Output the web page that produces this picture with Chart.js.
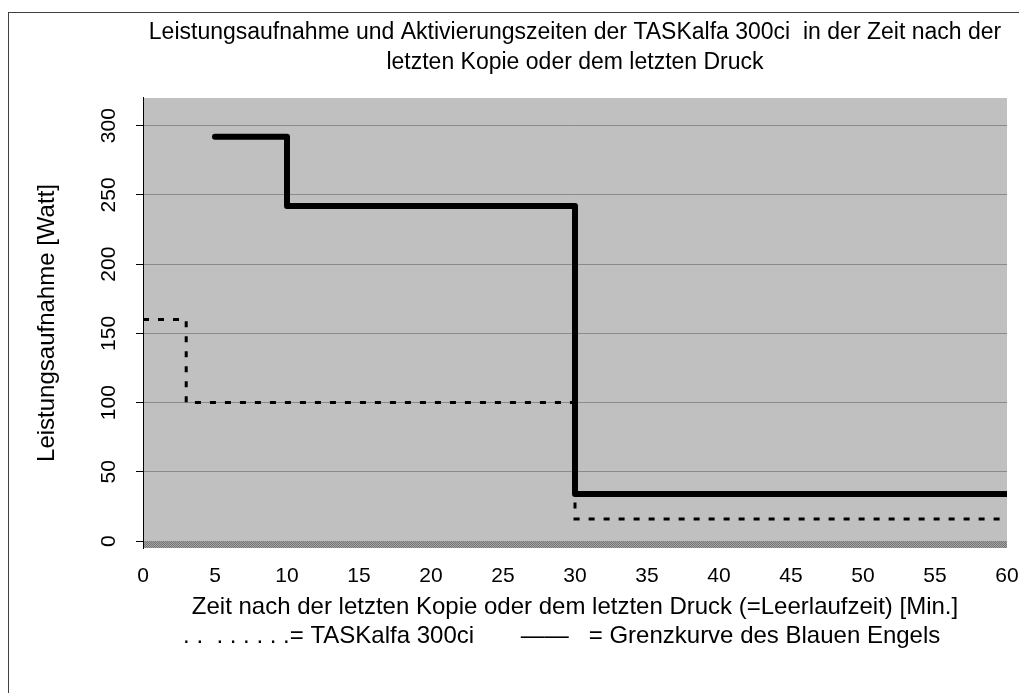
<!DOCTYPE html>
<html>
<head>
<meta charset="utf-8">
<script src="https://cdn.jsdelivr.net/npm/chart.js@4"></script>
<style>
  html, body { margin: 0; padding: 0; background: #fff; overflow: hidden; }
  #frame { position: absolute; left: 8px; top: 12px; width: 2000px; height: 2000px; border: 1px solid #404040; }
  #wrap { position: absolute; left: 0; top: 0; width: 1019px; height: 693px; }
</style>
</head>
<body>
<div id="frame"></div>
<div id="wrap"><canvas id="chart"></canvas></div>
<script>
// Zeit nach der letzten Kopie (Min.) -> Leistungsaufnahme (Watt), step ends
const tasTimes = [0, 3, 30, 60];
const tasWatts = [160, 100, 16, 16];
const engelTimes = [5, 10, 30, 60];
const engelWatts = [292, 242, 34, 34];
const yTicks = [0, 50, 100, 150, 200, 250, 300];

const FONT = 'Liberation Sans, Arial, sans-serif';

const toPoints = (xs, ys) => xs.map((x, i) => ({ x: x, y: ys[i] }));

// grey plot area + hatched floor under the zero line
const plotBackground = {
  id: 'plotBackground',
  beforeDraw(chart) {
    const { ctx, chartArea: a } = chart;
    ctx.save();
    ctx.fillStyle = '#c0c0c0';
    ctx.fillRect(a.left, a.top, a.right - a.left, a.bottom - a.top);
    ctx.restore();
  },
  beforeDatasetsDraw(chart) {
    const { ctx, chartArea: a, scales } = chart;
    const y0 = scales.y.getPixelForValue(0);
    const pc = document.createElement('canvas');
    pc.width = 2; pc.height = 2;
    const p = pc.getContext('2d');
    p.fillStyle = '#a4a4a4'; p.fillRect(0, 0, 2, 2);
    p.fillStyle = '#767676'; p.fillRect(0, 0, 1, 1); p.fillRect(1, 1, 1, 1);
    ctx.save();
    ctx.fillStyle = ctx.createPattern(pc, 'repeat');
    ctx.fillRect(a.left + 1, y0, a.right - a.left - 1, a.bottom - y0);
    ctx.restore();
  }
};

const ctx = document.getElementById('chart').getContext('2d');
new Chart(ctx, {
  type: 'line',
  data: {
    datasets: [{
      label: 'Grenzkurve des Blauen Engels',
      data: toPoints(engelTimes, engelWatts),
      stepped: 'before',
      borderColor: '#000',
      borderWidth: 6,
      borderCapStyle: 'round',
      borderJoinStyle: 'round',
      pointRadius: 0,
      fill: false
    }, {
      label: 'TASKalfa 300ci',
      data: toPoints(tasTimes, tasWatts),
      stepped: 'before',
      borderColor: '#000',
      borderWidth: 3,
      borderDash: [6, 9],
      pointRadius: 0,
      fill: false
    }]
  },
  options: {
    responsive: true,
    maintainAspectRatio: false,
    animation: false,
    layout: { padding: { top: 18, left: 29, right: 12, bottom: 38 } },
    plugins: {
      legend: { display: false },
      tooltip: { enabled: false },
      title: {
        display: true,
        fullSize: false,
        text: ['Leistungsaufnahme und Aktivierungszeiten der TASKalfa 300ci  in der Zeit nach der',
               'letzten Kopie oder dem letzten Druck'],
        color: '#000',
        font: { family: FONT, size: 23, weight: 'normal', lineHeight: 1.304 },
        padding: { top: 0, bottom: 20 }
      }
    },
    scales: {
      x: {
        type: 'linear',
        min: 0,
        max: 60,
        ticks: { stepSize: 5, color: '#000', padding: 16, font: { family: FONT, size: 21 } },
        grid: { display: false, drawTicks: false },
        border: { display: false },
        title: {
          display: true,
          text: ['Zeit nach der letzten Kopie oder dem letzten Druck (=Leerlaufzeit) [Min.]',
                 '. .  . . . . . .= TASKalfa 300ci       \u2014\u2014   = Grenzkurve des Blauen Engels    '],
          color: '#000',
          font: { family: FONT, size: 24, lineHeight: 1.2 }
        },
        afterFit(scale) {
          scale.height = 107;
          scale.paddingLeft = 0;
          scale.paddingRight = 0;
        }
      },
      y: {
        min: -5,
        max: 320,
        afterBuildTicks(scale) { scale.ticks = yTicks.map(v => ({ value: v })); },
        ticks: { color: '#000', padding: 9, minRotation: 90, maxRotation: 90, crossAlign: 'center',
                 font: { family: FONT, size: 21 } },
        grid: { color: '#8a8a8a', lineWidth: 1, tickLength: 7, tickColor: '#000' },
        border: { display: true, color: '#000', width: 1 },
        title: {
          display: true,
          text: 'Leistungsaufnahme [Watt]',
          color: '#000',
          font: { family: FONT, size: 24 }
        },
        afterFit(scale) { scale.width = 114; }
      }
    }
  },
  plugins: [plotBackground]
});
</script>
</body>
</html>
